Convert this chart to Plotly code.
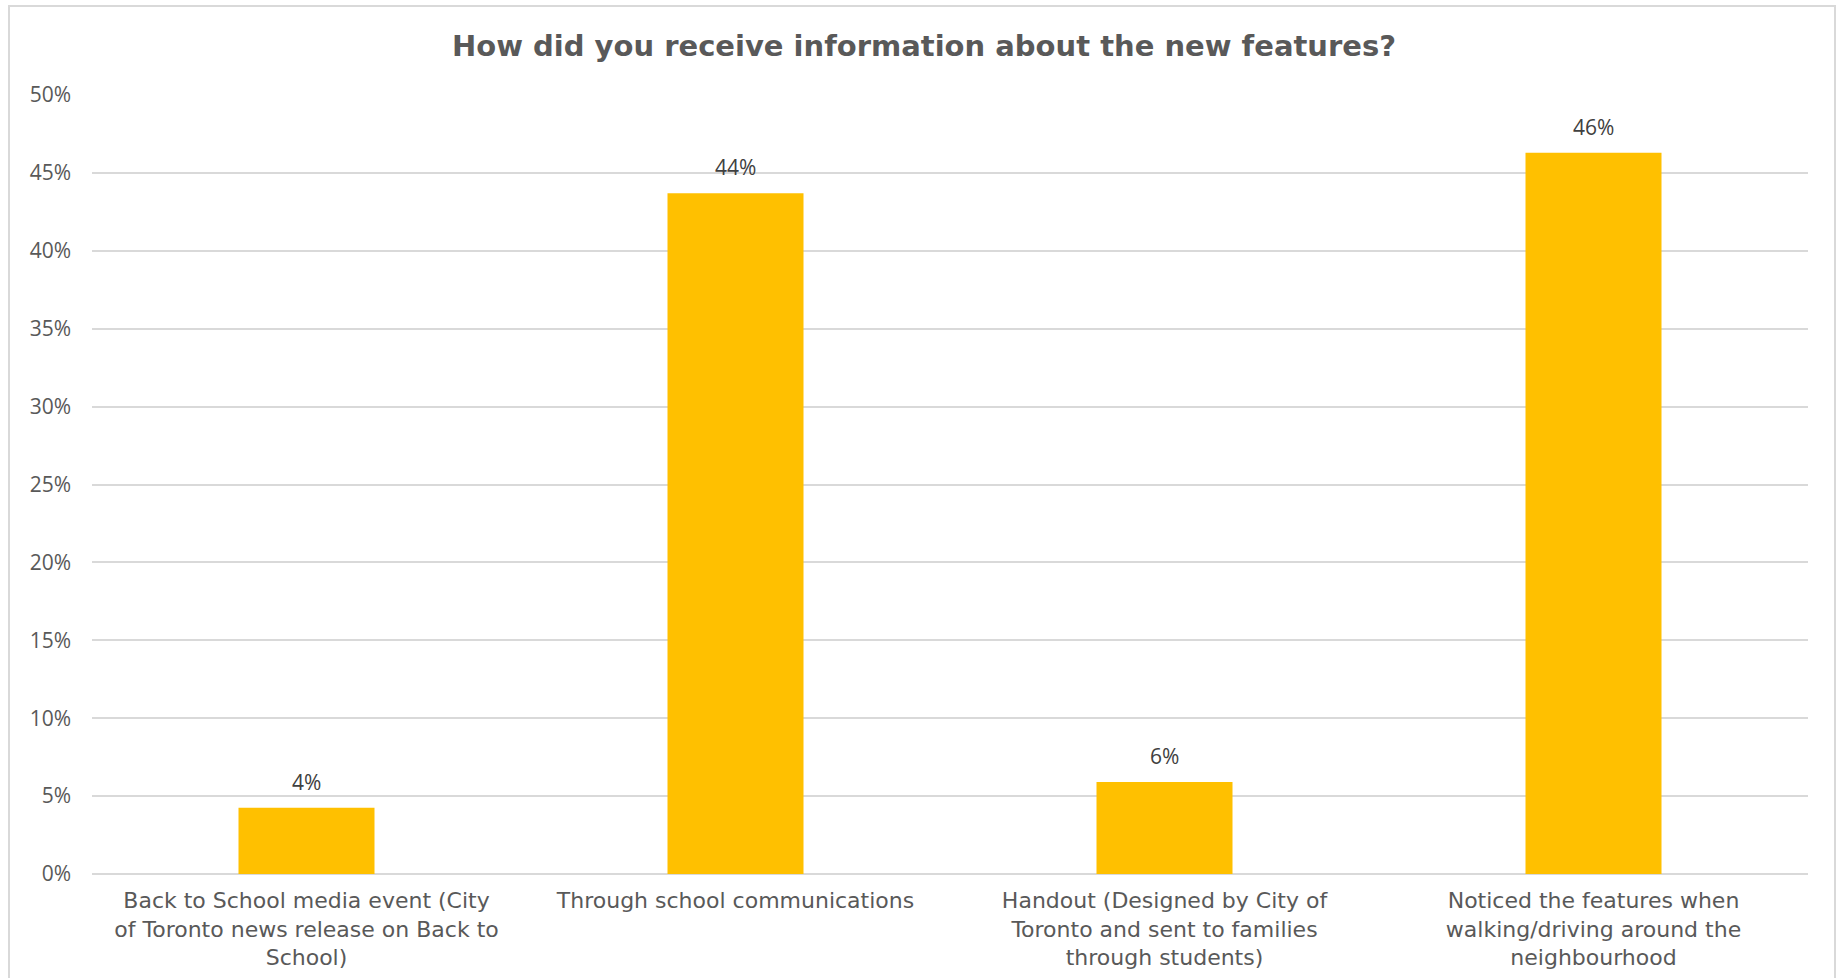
import plotly.graph_objects as go

categories = [
    "Back to School media event (City<br>of Toronto news release on Back to<br>School)",
    "Through school communications",
    "Handout (Designed by City of<br>Toronto and sent to families<br>through students)",
    "Noticed the features when<br>walking/driving around the<br>neighbourhood",
]
shares = [0.0425, 0.437, 0.059, 0.463]
y_ticks = [0, 0.05, 0.10, 0.15, 0.20, 0.25, 0.30, 0.35, 0.40, 0.45, 0.50]

W, H = 1839, 978
ml, mr, mt, mb = 92, 31, 95, 104
pw, ph = W - ml - mr, H - mt - mb

fig = go.Figure(
    go.Bar(
        x=categories,
        y=shares,
        marker=dict(color="#FFC000", line=dict(width=0)),
        cliponaxis=False,
    )
)

# value labels above each bar
for cat, val in zip(categories, shares):
    fig.add_annotation(
        x=cat, y=val, text=f"{val:.0%}", showarrow=False,
        yanchor="middle", yshift=26,
        font=dict(family="Open Sans", size=21, color="#404040"),
    )

# chart frame
fig.add_shape(
    type="rect", xref="paper", yref="paper",
    x0=(9 - ml) / pw, x1=(1835 - ml) / pw,
    y0=(H - 990 - mb) / ph, y1=(H - 6 - mb) / ph,
    line=dict(color="#D9D9D9", width=2), fillcolor="rgba(0,0,0,0)", layer="below",
)

fig.update_layout(
    width=W, height=H,
    margin=dict(l=ml, r=mr, t=mt, b=mb),
    paper_bgcolor="white", plot_bgcolor="white",
    bargap=0.683,
    showlegend=False,
    title=dict(
        text="<b>How did you receive information about the new features?</b>",
        x=924 / W, xanchor="center", y=1 - 46 / H, yanchor="middle",
        font=dict(family="DejaVu Sans", size=29, color="#595959"),
        automargin=False,
    ),
    font=dict(family="Open Sans", color="#595959"),
)
fig.update_yaxes(
    range=[0, 0.5], tickvals=y_ticks, tickformat=".0%",
    showgrid=True, gridcolor="#D9D9D9", gridwidth=2,
    zeroline=True, zerolinecolor="#D9D9D9", zerolinewidth=2,
    showline=False, ticks="",
    tickfont=dict(family="Open Sans", size=21, color="#595959"),
    ticklabelstandoff=20,
    automargin=False,
)
fig.update_xaxes(
    showgrid=False, showline=False, ticks="",
    tickfont=dict(family="DejaVu Sans", size=22, color="#595959"),
    tickangle=0,
    ticklabelstandoff=11,
    automargin=False,
)

fig.write_html("out.html")
